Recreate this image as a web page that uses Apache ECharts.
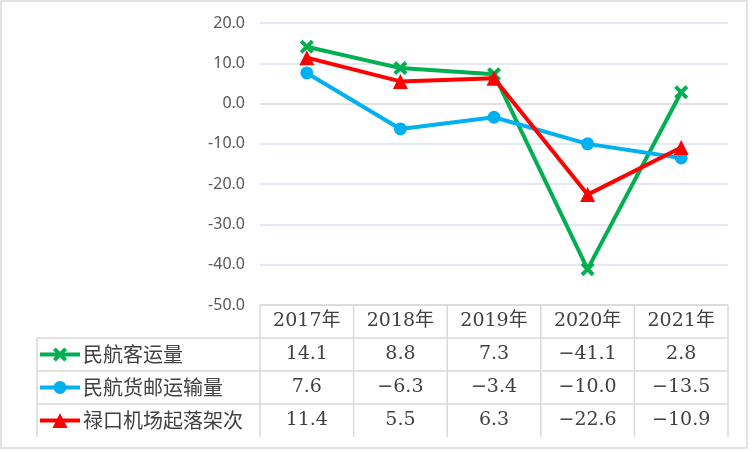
<!DOCTYPE html>
<html><head><meta charset="utf-8">
<script src="https://cdn.jsdelivr.net/npm/echarts@6/dist/echarts.min.js"></script>
<style>html,body{margin:0;padding:0;background:#fff}#c{width:752px;height:452px}</style>
</head><body><div id="c"></div>
<script>
const years = ['2017年','2018年','2019年','2020年','2021年'];
const passenger = [14.1, 8.8, 7.3, -41.1, 2.8];
const cargo = [7.6, -6.3, -3.4, -10.0, -13.5];
const flights = [11.4, 5.5, 6.3, -22.6, -10.9];
const seriesNames = ['民航客运量','民航货邮运输量','禄口机场起落架次'];
const colors = ['#00B050','#00B0F0','#FF0000'];
const yMin = -50, yMax = 20, yStep = 10;

const xPath = 'path://M2,0 L5,3 L8,0 L10,2 L7,5 L10,8 L8,10 L5,7 L2,10 L0,8 L3,5 L0,2 Z';
const symbols = [xPath, 'circle', 'triangle'];
const symSizes = [14, 13, 15];
const allData = [passenger, cargo, flights];
const numFont = '"DejaVu Serif","Noto Sans CJK SC"';

const chart = echarts.init(document.getElementById('c'), null, {renderer:'canvas'});
const nLines = (yMax - yMin) / yStep + 1;
const splitColors = [];
for (let i = 0; i < nLines; i++) {
  const v = yMin + i * yStep;
  splitColors.push(v === 0 ? '#D9D9D9' : '#D9E1F2');
}
chart.setOption({
  animation: false,
  grid: {left: 260, right: 24, top: 23, bottom: 147},
  xAxis: {
    type: 'category', data: years, boundaryGap: true,
    axisLine: {show: false}, axisTick: {show: false},
    axisLabel: {fontSize: 19, color: '#404040', margin: 7, fontFamily: numFont},
    splitLine: {show: false}
  },
  yAxis: {
    type: 'value', min: yMin, max: yMax, interval: yStep,
    axisLine: {show: false}, axisTick: {show: false},
    axisLabel: {fontSize: 16, color: '#595959', margin: 15, fontFamily: 'Noto Sans',
      formatter: v => v.toFixed(1)},
    splitLine: {lineStyle: {color: splitColors, width: 1.5}}
  },
  series: allData.map((d, i) => ({
    name: seriesNames[i], type: 'line', data: d,
    symbol: symbols[i], symbolSize: symSizes[i], showAllSymbol: true,
    lineStyle: {color: colors[i], width: 4},
    itemStyle: {color: colors[i]},
    z: 2 + i
  }))
});

// Data table built from axis positions
const xs = years.map(y => chart.convertToPixel({xAxisIndex: 0}, y));
const band = xs[1] - xs[0];
const tLeft = xs[0] - band / 2;
const tRight = xs[xs.length - 1] + band / 2;
const tTop = chart.convertToPixel({yAxisIndex: 0}, yMin);
const rowH = 33;
const keyLeft = 37;
const border = '#D9D9D9';
const g = [];
const line = (x1, y1, x2, y2) => g.push({type: 'line', shape: {x1, y1, x2, y2},
  style: {stroke: border, lineWidth: 1.5}, silent: true});
// outer chart border
g.push({type: 'rect', shape: {x: 1, y: 1, width: 746, height: 447},
  style: {fill: 'none', stroke: border, lineWidth: 1.5}, silent: true});
// horizontal lines
line(tLeft, tTop, tRight, tTop);
for (let r = 1; r <= seriesNames.length; r++) line(keyLeft, tTop + rowH * r, tRight, tTop + rowH * r);
// vertical lines
line(keyLeft, tTop + rowH, keyLeft, tTop + rowH * (seriesNames.length + 1));
for (let c = 0; c <= years.length; c++) {
  const x = tLeft + band * c;
  line(x, tTop, x, tTop + rowH * (seriesNames.length + 1));
}
const fmt = v => v.toFixed(1).replace('-', '−');
seriesNames.forEach((name, i) => {
  const cy = tTop + rowH * (i + 1) + rowH / 2;
  // legend key
  g.push({type: 'line', shape: {x1: keyLeft + 3, y1: cy, x2: keyLeft + 43, y2: cy},
    style: {stroke: colors[i], lineWidth: 4}, silent: true});
  const mx = keyLeft + 23;
  if (i === 0) {
    const s = 14 / 10, ox = mx - 7, oy = cy - 7;
    const pts = [[2,0],[5,3],[8,0],[10,2],[7,5],[10,8],[8,10],[5,7],[2,10],[0,8],[3,5],[0,2]]
      .map(p => [ox + p[0] * s, oy + p[1] * s]);
    g.push({type: 'polygon', shape: {points: pts}, style: {fill: colors[i]}, silent: true});
  } else if (i === 1) {
    g.push({type: 'circle', shape: {cx: mx, cy: cy, r: 6.5}, style: {fill: colors[i]}, silent: true});
  } else {
    g.push({type: 'polygon', shape: {points: [[mx, cy - 7.5], [mx + 7.5, cy + 7.5], [mx - 7.5, cy + 7.5]]},
      style: {fill: colors[i]}, silent: true});
  }
  g.push({type: 'text', x: keyLeft + 46, y: cy, style: {text: name, fontSize: 20,
    fontFamily: '"Noto Sans CJK SC"', fill: '#404040', align: 'left', verticalAlign: 'middle'}, silent: true});
  allData[i].forEach((v, j) => {
    g.push({type: 'text', x: xs[j], y: cy, style: {text: fmt(v), fontSize: 19,
      fontFamily: numFont, fill: '#404040', align: 'center', verticalAlign: 'middle'}, silent: true});
  });
});
chart.setOption({graphic: g});
</script></body></html>
